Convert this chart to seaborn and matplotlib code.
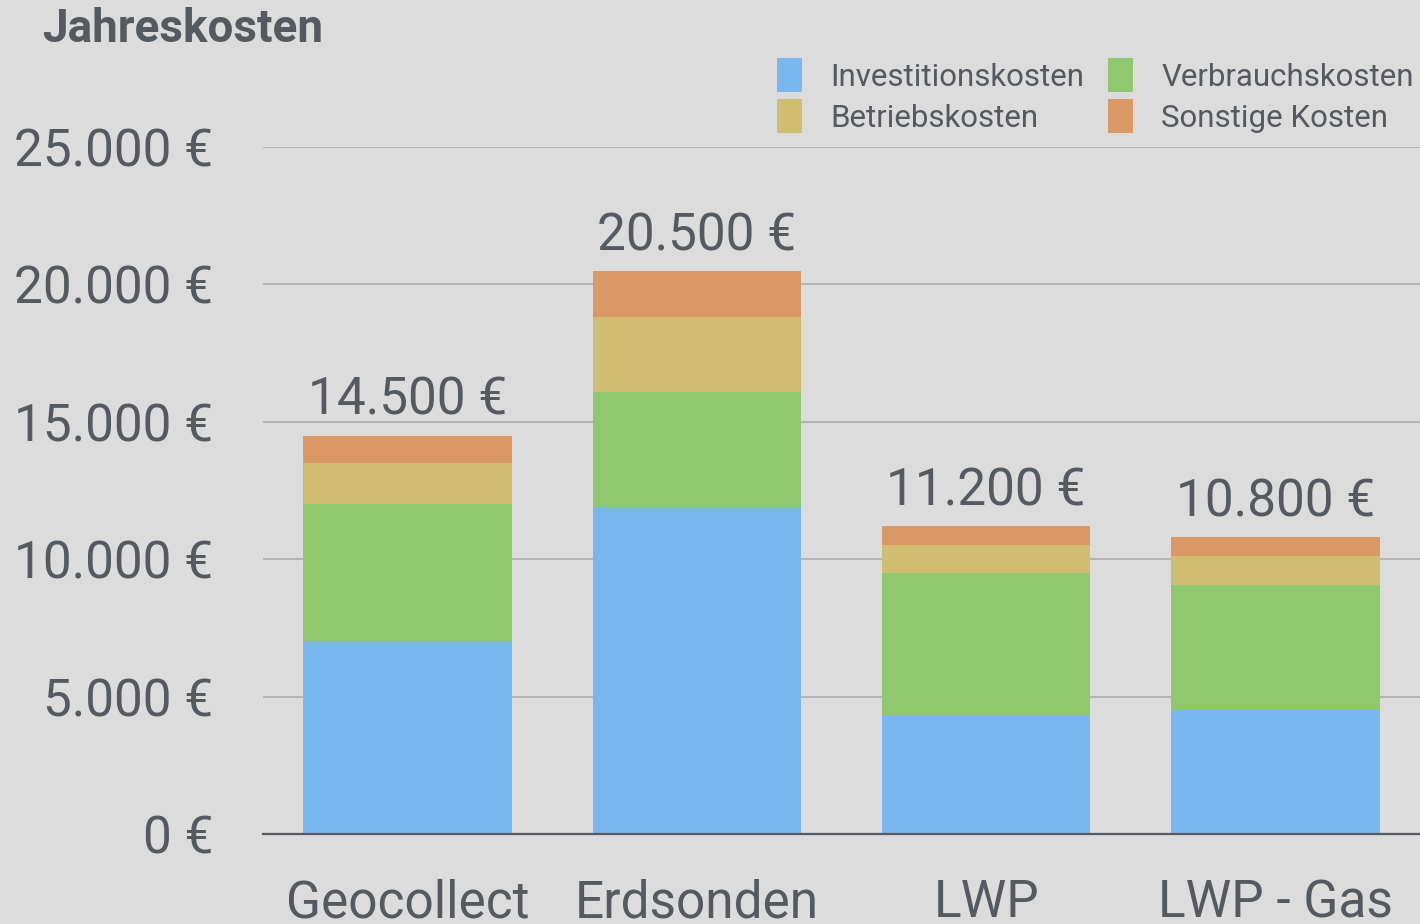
import matplotlib.pyplot as plt
import pandas as pd
import seaborn as sns
from matplotlib.patches import Patch

# Data
categories = ['Geocollect', 'Erdsonden', 'LWP', 'LWP - Gas']
investition = [7000, 11900, 4300, 4500]
verbrauch = [5000, 4200, 5200, 4550]
betrieb = [1500, 2700, 1000, 1050]
sonstige = [1000, 1700, 700, 700]
y_ticks = [0, 5000, 10000, 15000, 20000, 25000]

series_names = ['Investitionskosten', 'Verbrauchskosten', 'Betriebskosten', 'Sonstige Kosten']
colors = ['#7ab6ef', '#90c870', '#d1bd72', '#da9866']
bg = '#dcdcdc'
text_col = '#555a61'

df = pd.DataFrame({
    'category': categories,
    'Investitionskosten': investition,
    'Verbrauchskosten': verbrauch,
    'Betriebskosten': betrieb,
    'Sonstige Kosten': sonstige,
})
# cumulative heights for stacking
cum = df[series_names].cumsum(axis=1)
cum['category'] = df['category']


def fmt_eur(v):
    return f'{v:,.0f}'.replace(',', '.') + ' €'


sns.set_style('white')
plt.rcParams['font.family'] = ['Roboto', 'DejaVu Sans']

fig = plt.figure(figsize=(14.2, 9.24), dpi=100, facecolor=bg)
ax = fig.add_axes([263 / 1420, 90 / 924, 1157 / 1420, 687 / 924])
ax.set_facecolor(bg)

# draw from the top layer down so lower segments sit on top
for name, color in reversed(list(zip(series_names, colors))):
    sns.barplot(data=cum, x='category', y=name, color=color, saturation=1,
                width=0.72, ax=ax, zorder=3, edgecolor='none', linewidth=0)

ax.set_xlim(-0.5, 3.5)
ax.set_ylim(0, 25000)
ax.set_yticks(y_ticks)
ax.set_yticklabels([fmt_eur(t) for t in y_ticks])
ax.set_xlabel('')
ax.set_ylabel('')

ax.grid(axis='y', color='#b4b4b4', linewidth=1.5, zorder=0)
ax.grid(axis='x', visible=False)
for s in ['top', 'right', 'left']:
    ax.spines[s].set_visible(False)
ax.spines['bottom'].set_color(text_col)
ax.spines['bottom'].set_linewidth(1.6)
ax.spines['bottom'].set_zorder(4)

ax.tick_params(axis='y', length=0, pad=36, labelsize=37, labelcolor=text_col)
ax.tick_params(axis='x', length=0, pad=32, labelsize=37, labelcolor=text_col)

# totals above bars
totals = cum['Sonstige Kosten'].tolist()
for i, t in enumerate(totals):
    ax.text(i, t + 750, fmt_eur(t), ha='center', va='baseline',
            fontsize=37, color=text_col)

fig.text(42 / 1420, 1 - 42 / 924, 'Jahreskosten', fontsize=33, fontweight='bold',
         color=text_col, ha='left', va='baseline')

order = [0, 2, 1, 3]
handles = [Patch(facecolor=colors[i], edgecolor='none') for i in order]
labels = [series_names[i] for i in order]
fig.legend(handles, labels, ncol=2, loc='upper right',
           bbox_to_anchor=(1.0, 1 - 52 / 924), frameon=False,
           fontsize=22.5, labelcolor=text_col, handlelength=0.8, handleheight=1.3,
           handletextpad=0.9, columnspacing=0.77, labelspacing=0.22, borderpad=0.1,
           borderaxespad=0.1)

fig.savefig('out.png', dpi=100, facecolor=bg)
